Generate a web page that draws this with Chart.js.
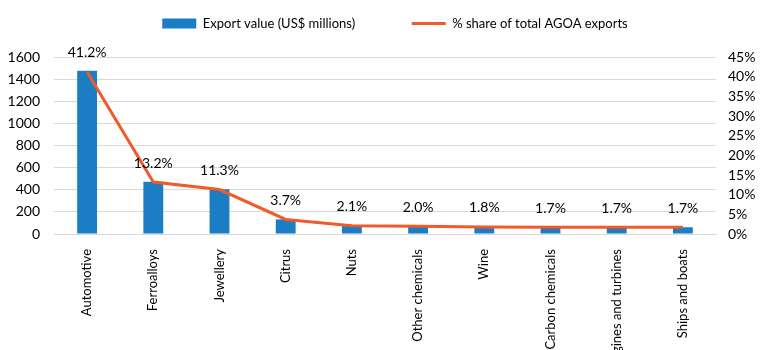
<!DOCTYPE html>
<html>
<head>
<meta charset="utf-8">
<script src="https://cdn.jsdelivr.net/npm/chart.js@4.4.1/dist/chart.umd.min.js"></script>
<style>
  html, body { margin: 0; padding: 0; background: #fff; overflow: hidden; }
</style>
</head>
<body>
<canvas id="chart" width="768" height="350"></canvas>
<script>
// Chart data
const categories = ['Automotive', 'Ferroalloys', 'Jewellery', 'Citrus', 'Nuts',
    'Other chemicals', 'Wine', 'Carbon chemicals', 'Engines and turbines', 'Ships and boats'];
const exportValues = [1475, 473, 405, 132, 75, 72, 64, 61, 61, 61];
const sharePct = [41.2, 13.2, 11.3, 3.7, 2.1, 2.0, 1.8, 1.7, 1.7, 1.7];
const leftTicks = [0, 200, 400, 600, 800, 1000, 1200, 1400, 1600];
const rightTicks = [0, 5, 10, 15, 20, 25, 30, 35, 40, 45];

const BLUE = '#1b7dc4';
const ORANGE = '#f15a29';
const FONT = 'Lato, "Open Sans", sans-serif';
const TEXT = '#000';

// percentage labels above the line points
const shareLabels = {
    id: 'shareLabels',
    afterDatasetsDraw(chart) {
        const meta = chart.getDatasetMeta(1);
        const ctx = chart.ctx;
        ctx.save();
        ctx.font = '14px ' + FONT;
        ctx.fillStyle = TEXT;
        ctx.textAlign = 'center';
        ctx.textBaseline = 'middle';
        meta.data.forEach((pt, i) => {
            ctx.fillText(sharePct[i].toFixed(1) + '%', pt.x, pt.y - 19);
        });
        ctx.restore();
    }
};

// fixed legend block height, and nudge the legend a bit to the right
const legendTweak = {
    id: 'legendTweak',
    beforeInit(chart) {
        const legend = chart.legend;
        if (!legend) return;
        const fit = legend.fit;
        legend.fit = function () {
            fit.call(this);
            this.height = 50;
        };
    },
    afterLayout(chart) {
        if (chart.legend) chart.legend.left = 22;
    }
};

new Chart(document.getElementById('chart'), {
    data: {
        labels: categories,
        datasets: [{
            type: 'bar',
            label: 'Export value (US$ millions)              ',
            data: exportValues,
            backgroundColor: BLUE,
            borderWidth: 0,
            categoryPercentage: 0.8,
            barPercentage: 0.375,
            yAxisID: 'y',
            order: 1
        }, {
            type: 'line',
            label: '% share of total AGOA exports',
            data: sharePct,
            borderColor: ORANGE,
            backgroundColor: ORANGE,
            borderWidth: 3,
            pointRadius: 0,
            tension: 0,
            yAxisID: 'y1',
            order: 0
        }]
    },
    options: {
        responsive: false,
        devicePixelRatio: 1,
        animation: false,
        layout: { padding: { top: 7, left: 0, right: 0, bottom: 0 } },
        plugins: {
            tooltip: { enabled: false },
            legend: {
                position: 'top',
                labels: {
                    font: { size: 13, family: FONT },
                    color: TEXT,
                    usePointStyle: true,
                    pointStyleWidth: 34,
                    boxHeight: 10,
                    padding: 10,
                    generateLabels(chart) {
                        const items = Chart.defaults.plugins.legend.labels.generateLabels(chart);
                        return items
                            .sort((a, b) => a.datasetIndex - b.datasetIndex)
                            .map(it => Object.assign(it, { pointStyle: it.datasetIndex === 0 ? 'rect' : 'line' }));
                    }
                }
            }
        },
        scales: {
            x: {
                offset: true,
                grid: { display: false },
                border: { color: '#d9d9d9' },
                ticks: {
                    color: TEXT,
                    font: { size: 13, family: FONT },
                    minRotation: 90,
                    maxRotation: 90,
                    autoSkip: false,
                    padding: 7
                },
                afterFit(scale) { scale.height = 116; }
            },
            y: {
                position: 'left',
                min: 0,
                max: 1600,
                afterBuildTicks(scale) { scale.ticks = leftTicks.map(v => ({ value: v })); },
                grid: { color: '#d9d9d9', drawTicks: false },
                border: { display: false },
                ticks: {
                    color: TEXT,
                    font: { size: 14, family: FONT },
                    padding: 14,
                    autoSkip: false,
                    callback: v => String(v)
                },
                afterFit(scale) { scale.width = 54; }
            },
            y1: {
                position: 'right',
                min: 0,
                max: 45,
                afterBuildTicks(scale) { scale.ticks = rightTicks.map(v => ({ value: v })); },
                grid: { display: false, drawTicks: false },
                border: { display: false },
                ticks: {
                    color: TEXT,
                    font: { size: 14, family: FONT },
                    padding: 12,
                    autoSkip: false,
                    callback: v => v + '%'
                },
                afterFit(scale) { scale.width = 52; }
            }
        }
    },
    plugins: [shareLabels, legendTweak]
});
</script>
</body>
</html>
